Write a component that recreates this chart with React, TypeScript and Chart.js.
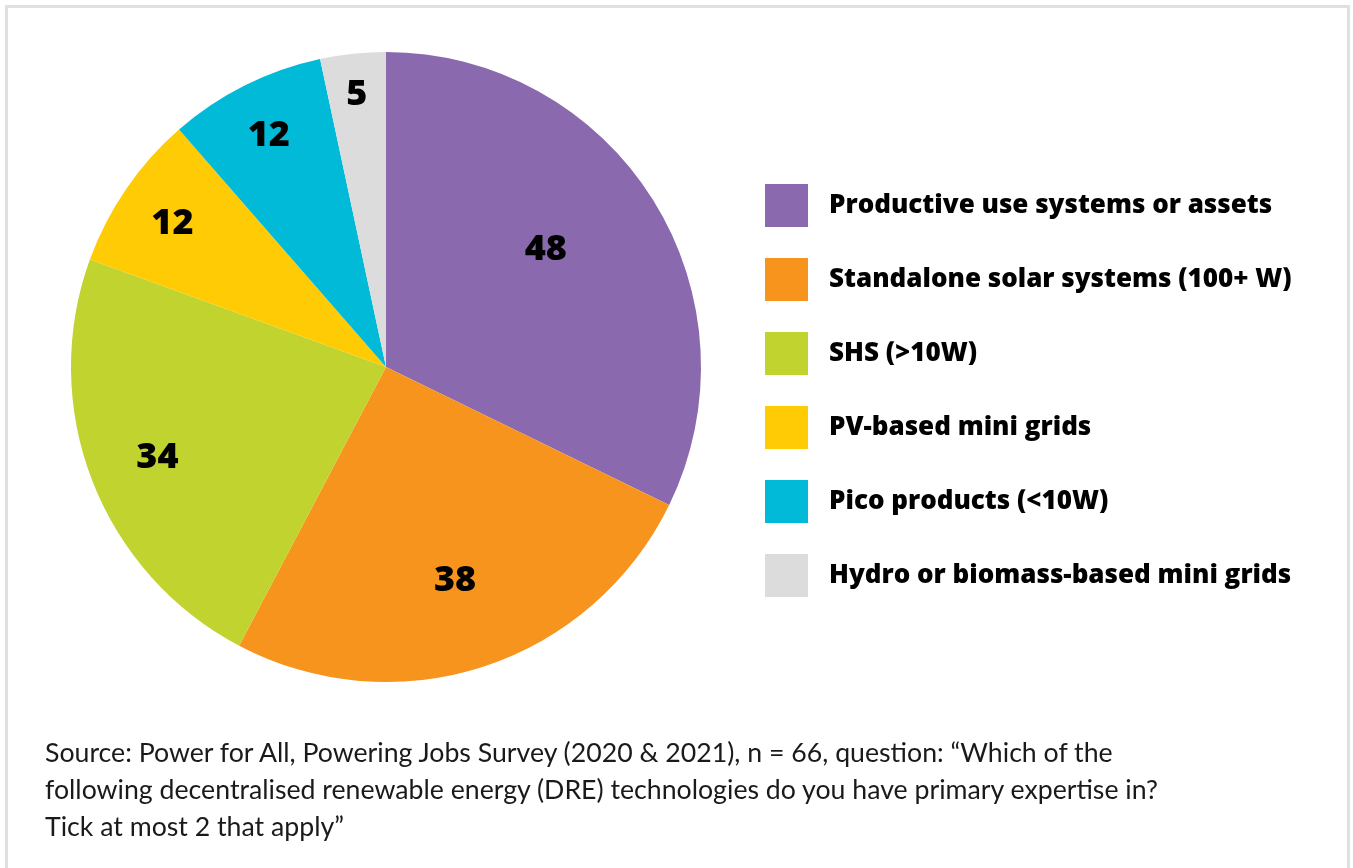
import React, { useEffect, useRef } from "react";
import { Chart, registerables } from "chart.js";

Chart.register(...registerables);

const categories = [
  "Productive use systems or assets",
  "Standalone solar systems (100+ W)",
  "SHS (>10W)",
  "PV-based mini grids",
  "Pico products (<10W)",
  "Hydro or biomass-based mini grids",
];
const responses = [48, 38, 34, 12, 12, 5];
const sliceColors = ["#8a69ae", "#f7941e", "#c1d32f", "#ffcb05", "#00bad7", "#dcdcdc"];
const sourceLines = [
  "Source: Power for All, Powering Jobs Survey (2020 & 2021), n = 66, question: \u201cWhich of the",
  "following decentralised renewable energy (DRE) technologies do you have primary expertise in?",
  "Tick at most 2 that apply\u201d",
];

// label placement styling (fraction of radius, angle tweak in degrees)
const labelRadiusFrac = [0.635, 0.705, 0.778, 0.822, 0.832, 0.879];
const labelAngleShift = [-5, 0, 0, 0, 0, 0];

const sliceLabelPlugin = {
  id: "sliceLabels",
  afterDatasetsDraw(chart: any) {
    const ctx = chart.ctx;
    const meta = chart.getDatasetMeta(0);
    const values = chart.data.datasets[0].data as number[];
    ctx.save();
    ctx.fillStyle = "#000";
    ctx.font = "800 36px 'Open Sans'";
    ctx.textAlign = "center";
    ctx.textBaseline = "alphabetic";
    meta.data.forEach((arc: any, i: number) => {
      const mid = (arc.startAngle + arc.endAngle) / 2 + (labelAngleShift[i] * Math.PI) / 180;
      const r = arc.outerRadius * labelRadiusFrac[i];
      const x = arc.x + Math.cos(mid) * r;
      const y = arc.y + Math.sin(mid) * r;
      ctx.fillText(String(values[i]), x, y + 13);
    });
    ctx.restore();
  },
};

const legendPlugin = {
  id: "sideLegend",
  afterDraw(chart: any) {
    const ctx = chart.ctx;
    const labels = chart.data.labels as string[];
    const colors = chart.data.datasets[0].backgroundColor as string[];
    ctx.save();
    ctx.font = "800 26px 'Open Sans'";
    ctx.textBaseline = "alphabetic";
    ctx.textAlign = "left";
    labels.forEach((lab, i) => {
      const top = 184 + i * 74;
      ctx.fillStyle = colors[i];
      ctx.fillRect(765, top, 43, 43);
      ctx.fillStyle = "#000";
      ctx.fillText(lab, 829, top + 29);
    });
    ctx.restore();
  },
};

export default function App() {
  const ref = useRef<HTMLCanvasElement>(null);
  useEffect(() => {
    if (!ref.current) return;
    const chart = new Chart(ref.current, {
      type: "pie",
      data: {
        labels: categories,
        datasets: [
          {
            data: responses,
            backgroundColor: sliceColors,
            borderWidth: 0,
          },
        ],
      },
      options: {
        responsive: false,
        animation: false,
        layout: { padding: { left: 71, top: 52, right: 652, bottom: 186 } },
        plugins: {
          legend: { display: false },
          tooltip: { enabled: false },
        },
      },
      plugins: [sliceLabelPlugin, legendPlugin],
    });
    return () => chart.destroy();
  }, []);

  return (
    <div style={{ position: "absolute", left: 0, top: 0, width: 1353, height: 868, overflow: "hidden", background: "#fff" }}>
      <div
        style={{
          position: "absolute",
          left: 5,
          top: 5,
          width: 1339,
          height: 900,
          border: "3px solid #dde1e4",
        }}
      />
      <canvas ref={ref} width={1353} height={868} style={{ position: "absolute", left: 0, top: 0 }} />
      <div
        style={{
          position: "absolute",
          left: 45,
          top: 734,
          fontFamily: "Lato, sans-serif",
          fontSize: 26.7,
          lineHeight: "37px",
          color: "#1a1a1a",
          whiteSpace: "nowrap",
        }}
      >
        {sourceLines.map((l, i) => (
          <div key={i}>{l}</div>
        ))}
      </div>
    </div>
  );
}
